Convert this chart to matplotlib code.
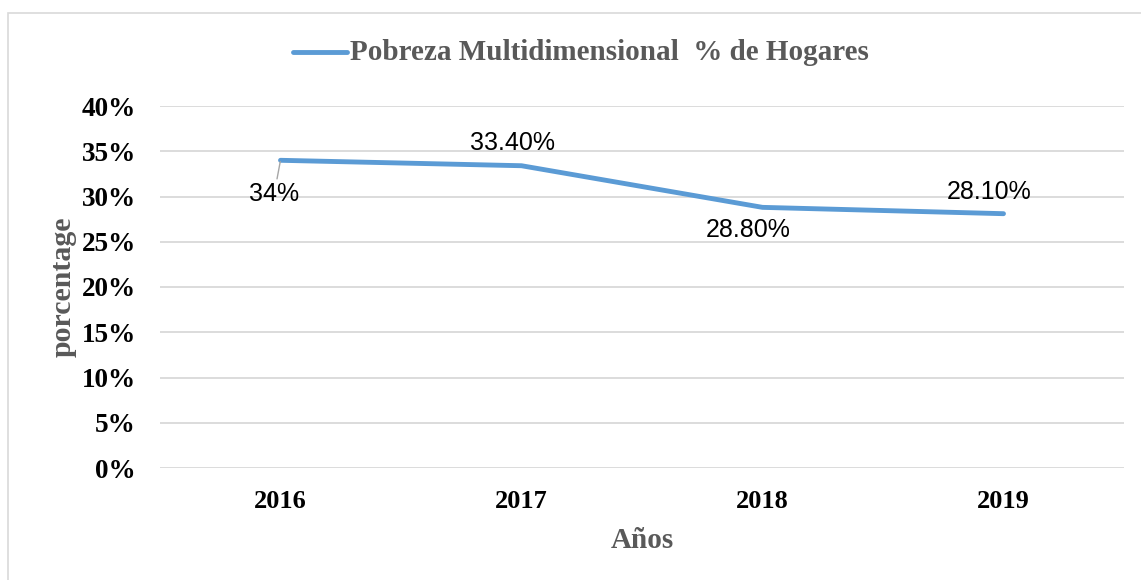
import matplotlib
matplotlib.use("Agg")
import matplotlib.pyplot as plt
from matplotlib.patches import Rectangle
from matplotlib.lines import Line2D

years = ["2016", "2017", "2018", "2019"]
values = [0.34, 0.334, 0.288, 0.281]
value_labels = ["34%", "33.40%", "28.80%", "28.10%"]
yticks = [0.0, 0.05, 0.10, 0.15, 0.20, 0.25, 0.30, 0.35, 0.40]
ytick_labels = ["0%", "5%", "10%", "15%", "20%", "25%", "30%", "35%", "40%"]
series_name = "Pobreza Multidimensional  % de Hogares"

W, H = 1141, 580
fig = plt.figure(figsize=(W / 100, H / 100), dpi=100)
fig.patch.set_facecolor("white")

# outer chart border
fig.patches.append(Rectangle((8 / W, -0.05), 1.2, 1 - 12.5 / H + 0.05,
                             transform=fig.transFigure, fill=False,
                             edgecolor="#D9D9D9", linewidth=1.2))

left, right, top, bottom = 160, 1124, 106, 468
ax = fig.add_axes([left / W, 1 - bottom / H, (right - left) / W, (bottom - top) / H])

line_color = "#5B9BD5"
x = list(range(len(years)))
ax.plot(x, values, color=line_color, linewidth=3.5, solid_capstyle="round",
        solid_joinstyle="round", zorder=3)

ax.set_xlim(-0.5, len(years) - 0.5)
ax.set_ylim(0, 0.40)
ax.set_yticks(yticks)
ax.set_yticklabels(ytick_labels)
ax.set_xticks(x)
ax.set_xticklabels(years)

serif = ["Liberation Serif", "DejaVu Serif"]
for lbl in ax.get_yticklabels():
    lbl.set_fontfamily(serif)
    lbl.set_fontweight("bold")
    lbl.set_fontsize(19.5)
    lbl.set_color("black")
for lbl in ax.get_xticklabels():
    lbl.set_fontfamily(serif)
    lbl.set_fontweight("bold")
    lbl.set_fontsize(19)
    lbl.set_color("black")

ax.tick_params(axis="both", length=0)
ax.tick_params(axis="y", pad=17.5)
ax.tick_params(axis="x", pad=16)
ax.grid(axis="y", color="#D9D9D9", linewidth=1.3)
ax.set_axisbelow(True)
for s in ax.spines.values():
    s.set_visible(False)

# data labels (offsets in points)
offsets = [(-4.5, -24), (-6.5, 16.5), (-10, -16), (-10, 15.5)]
for i, (v, t, off) in enumerate(zip(values, value_labels, offsets)):
    kw = {}
    if i == 0:
        kw["arrowprops"] = dict(arrowstyle="-", color="#A6A6A6", lw=1.0,
                                shrinkA=0, shrinkB=1)
    ax.annotate(t, xy=(i, v), xytext=off, textcoords="offset points",
                ha="center", va="center", fontsize=18,
                fontfamily=["Liberation Sans", "DejaVu Sans"], color="black", **kw)

# legend at top
gray = "#595959"
fig.add_artist(Line2D([293 / W, 347 / W], [1 - 52 / H, 1 - 52 / H], color=line_color,
                      linewidth=3.5, solid_capstyle="round", transform=fig.transFigure))
fig.text(350 / W, 1 - 52 / H, series_name, ha="left", va="center", fontsize=21,
         fontfamily=serif, fontweight="bold", color=gray)

ax.set_ylabel("porcentage", fontsize=21.5, fontfamily=serif, fontweight="bold", color=gray)
ax.yaxis.set_label_coords((77 - left) / (right - left), 0.5)
fig.text(642 / W, 1 - 541 / H, "Años", ha="center", va="center", fontsize=21,
         fontfamily=serif, fontweight="bold", color=gray)

fig.savefig("out.png", dpi=100, facecolor="white")
